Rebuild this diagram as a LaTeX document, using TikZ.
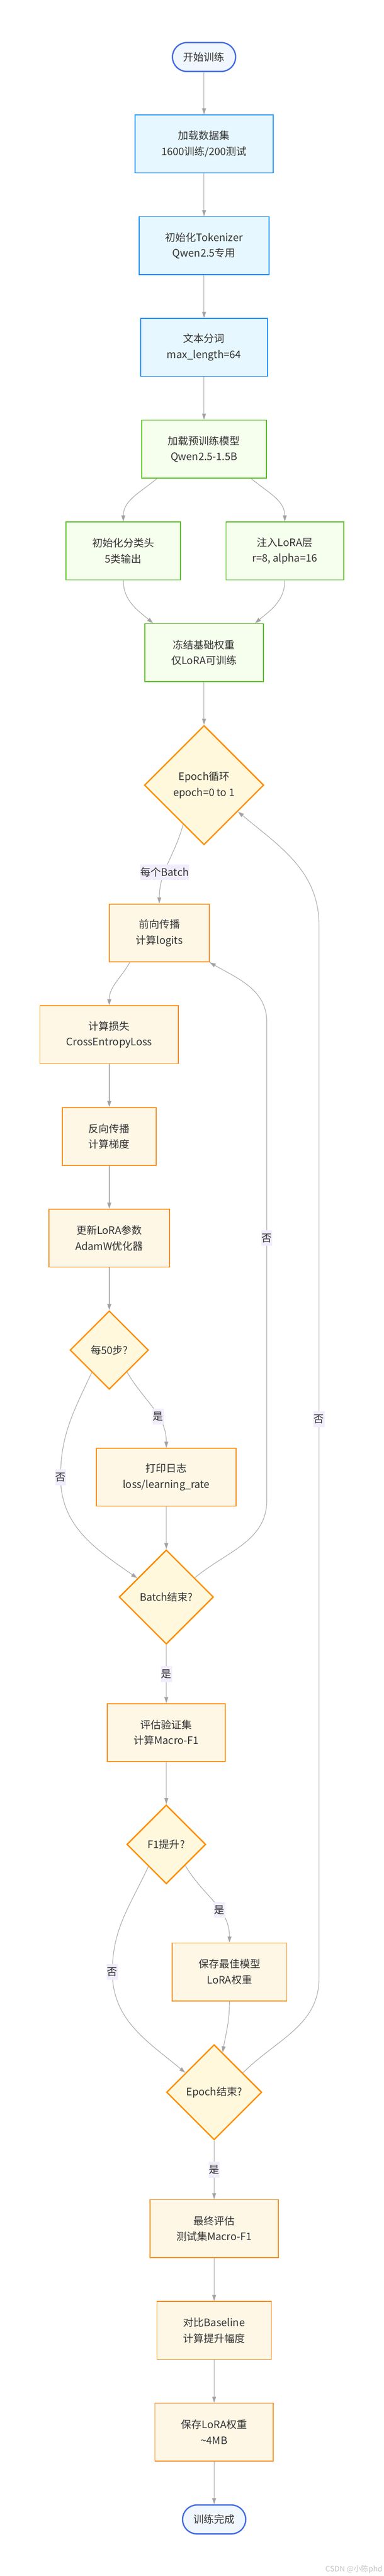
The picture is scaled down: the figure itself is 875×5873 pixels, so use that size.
\documentclass[tikz,border=0pt]{standalone}
\usepackage{fontspec}
\setmainfont{Noto Sans CJK SC}
\usepackage{tikz}
\usetikzlibrary{positioning}
\usetikzlibrary{shapes.geometric}
\usetikzlibrary{arrows.meta}

\definecolor{textgray}{HTML}{333333}
\definecolor{linegray}{HTML}{A8A8A8}
\definecolor{tipgray}{HTML}{A0A0A0}
\definecolor{termblue}{HTML}{4169E1}
\definecolor{termfill}{HTML}{F0F7FF}
\definecolor{prepblue}{HTML}{1890FF}
\definecolor{prepfill}{HTML}{E6F7FF}
\definecolor{modelgreen}{HTML}{52C41A}
\definecolor{modelfill}{HTML}{F6FFED}
\definecolor{trainorange}{HTML}{FA8C16}
\definecolor{trainfill}{HTML}{FFF7E6}
\definecolor{looporange}{HTML}{FF8C00}
\definecolor{loopfill}{HTML}{FFF8DC}
\definecolor{labelfill}{HTML}{F2EDFC}
\definecolor{markgray}{HTML}{C4C4C4}

\tikzset{
	terminal/.style={draw=termblue, fill=termfill, line width=3pt, rectangle, rounded corners=33pt, minimum width=144pt, minimum height=66pt, text=textgray},
	prep/.style={draw=prepblue, fill=prepfill, line width=2pt, rectangle, inner xsep=60pt, minimum height=132pt, align=center, text=textgray},
	modelstep/.style={draw=modelgreen, fill=modelfill, line width=2pt, rectangle, inner xsep=60pt, minimum height=132pt, align=center, text=textgray},
	trainstep/.style={draw=trainorange, fill=trainfill, line width=2pt, rectangle, inner xsep=60pt, minimum height=132pt, align=center, text=textgray},
	% loop tests
	decision/.style={diamond, aspect=1, draw=looporange, fill=loopfill, line width=3pt, inner sep=0pt, align=center, text=textgray},
	branch/.style={fill=labelfill, inner xsep=1pt, inner ysep=0pt, minimum height=36pt, text=textgray},
}

\begin{document}
\begin{tikzpicture}[x=1pt, y=1pt, node distance=232pt, font=\fontsize{23.5pt}{36pt}\selectfont]

	\path[use as bounding box, fill=white] (-465,130) rectangle (410,-5743);

	\node (start) [terminal] {开始训练};

	% data
	\node (data) [prep, below of=start, yshift=34pt] {加载数据集\\1600训练/200测试};
	\node (tok) [prep, below of=data] {初始化Tokenizer\\Qwen2.5专用};
	\node (seg) [prep, below of=tok] {文本分词\\max\_length=64};

	% model
	\node (model) [modelstep, below of=seg] {加载预训练模型\\Qwen2.5-1.5B};
	\node (head) [modelstep, below of=model, xshift=-184pt] {初始化分类头\\5类输出};
	\node (lora) [modelstep, below of=model, xshift=184pt] {注入LoRA层\\r=8, alpha=16};
	\node (freeze) [modelstep, below of=head, xshift=184pt] {冻结基础权重\\仅LoRA可训练};

	% training loop
	\node (epoch) [decision, minimum size=272pt, below of=freeze, yshift=-70pt] {Epoch循环\\epoch=0 to 1};
	\node (fwd) [trainstep, below of=epoch, xshift=-102pt, yshift=-105pt] {前向传播\\计算logits};
	\node (loss) [trainstep, below of=fwd, xshift=-114pt] {计算损失\\CrossEntropyLoss};
	\node (bwd) [trainstep, below of=loss] {反向传播\\计算梯度};
	\node (upd) [trainstep, below of=bwd] {更新LoRA参数\\AdamW优化器};
	\node (step50) [decision, minimum size=179pt, below of=upd, yshift=-23pt] {每50步?};
	\node (log) [trainstep, below of=step50, xshift=130pt, yshift=-58pt] {打印日志\\loss/learning\_rate};
	\node (batchend) [decision, minimum size=215pt, below of=log, yshift=-41pt] {Batch结束?};
	\node (eval) [trainstep, below of=batchend, yshift=-77pt] {评估验证集\\计算Macro-F1};
	\node (f1) [decision, minimum size=180pt, below of=eval, yshift=-23pt] {F1提升?};
	\node (savebest) [trainstep, below of=f1, xshift=144pt, yshift=-59pt] {保存最佳模型\\LoRA权重};
	\node (epochend) [decision, minimum size=217pt, below of=savebest, xshift=-35pt, yshift=-42pt] {Epoch结束?};

	% after training
	\node (final) [trainstep, below of=epochend, yshift=-79pt] {最终评估\\测试集Macro-F1};
	\node (cmp) [trainstep, below of=final] {对比Baseline\\计算提升幅度};
	\node (savelora) [trainstep, below of=cmp] {保存LoRA权重\\\textasciitilde 4MB};
	\node (done) [terminal, below of=savelora, yshift=33pt] {训练完成};

	\node (mark) [anchor=south east, text=markgray, font=\fontsize{17pt}{17pt}\selectfont] at (410,-5740) {CSDN @小陈phd};

	% bends of the side paths
	\coordinate [left=241pt of log.center] (skip50);
	\coordinate [left=267pt of savebest.center] (skipf1);
	\coordinate [below right=52pt and 229pt of log.center] (batchlow);
	\coordinate [below right=203pt and 245pt of fwd.center] (batchhigh);
	\coordinate [above right=260pt and 239pt of epochend.center] (epochlow);
	\coordinate [above right=17pt and 364pt of fwd.center] (epochhigh);

	\begin{scope}[line width=1.3pt, linegray, ->, >={Triangle[length=14pt, width=9pt, fill=tipgray]}]
		\draw (start) -- (data);
		\draw (data) -- (tok);
		\draw (tok) -- (seg);
		\draw (seg) -- (model);
		\draw (model.-148) to[out=-140, in=90] (head.north);
		\draw (model.-32) to[out=-40, in=90] (lora.north);
		\draw (head.south) to[out=-90, in=140] (freeze.150);
		\draw (lora.south) to[out=-90, in=40] (freeze.30);
		\draw (freeze) -- (epoch);
		\draw (epoch.-118) to[out=-105, in=90] node [branch, pos=0.62] {每个Batch} (fwd.north);
		\draw (fwd.-135) to[out=-120, in=90] (loss.north);
		\draw (loss) -- (bwd);
		\draw (bwd) -- (upd);
		\draw (upd) -- (step50);
		\draw (step50.-51) to[out=-60, in=90] node [branch, pos=0.62] {是} (log.north);
		\draw (step50.-128) to[out=-115, in=90] (skip50) node [branch] {否} to[out=-90, in=145] (batchend.147);
		\draw (log) -- (batchend);
		\draw (batchend.34) to[out=40, in=-90] (batchlow) -- node [branch, pos=0.548] {否} (batchhigh) to[out=90, in=-30] (fwd.south east);
		\draw (batchend) -- node [branch] {是} (eval);
		\draw (eval) -- (f1);
		\draw (f1.-48) to[out=-60, in=90] node [branch, pos=0.61] {是} (savebest.north);
		\draw (f1.-129) to[out=-115, in=90] (skipf1) node [branch] {否} to[out=-90, in=140] (epochend.146);
		\draw (savebest.south) to[out=-90, in=80] (epochend.78);
		\draw (epochend.34) to[out=45, in=-90] (epochlow) -- node [branch, pos=0.531] {否} (epochhigh) to[out=90, in=-40] (epoch.-38);
		\draw (epochend) -- node [branch] {是} (final);
		\draw (final) -- (cmp);
		\draw (cmp) -- (savelora);
		\draw (savelora) -- (done);
	\end{scope}
\end{tikzpicture}
\end{document}
